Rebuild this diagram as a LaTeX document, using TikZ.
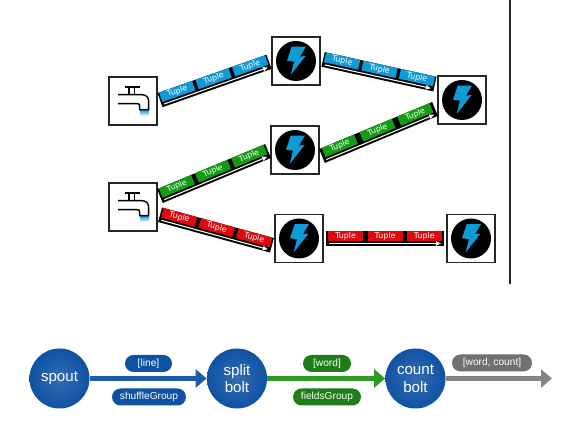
\documentclass[tikz,border=0pt]{standalone}
\usepackage{fontspec}
\setmainfont{Liberation Sans}
\newfontfamily\tuplefont{DejaVu Sans}
\usetikzlibrary{arrows.meta,calc}

\definecolor{tupleblue}{HTML}{0E9BD8}
\definecolor{tuplegreen}{HTML}{119C11}
\definecolor{tuplered}{HTML}{E0080F}
\definecolor{ballblue}{HTML}{0F52A4}
\definecolor{flowblue}{HTML}{1C5CA8}
\definecolor{flowgreen}{HTML}{2E9B22}
\definecolor{flowgray}{HTML}{858585}
\definecolor{pillgreen}{HTML}{1E7D16}
\definecolor{pillgray}{HTML}{707070}

\tikzset{
	iconbox/.style={draw=black!85,fill=white,line width=.6pt,minimum size=.96cm,inner sep=0pt},
	tuplecell/.style={fill=#1,text=white,font=\tuplefont\fontsize{4.5}{5}\selectfont,minimum width=.7cm,minimum height=.2cm,inner sep=0pt,sloped},
	streamband/.style={line width=.3cm,black,shorten <=1.5pt,shorten >=1.5pt},
	streamarrow/.style={white,line width=.6pt,-{Latex[length=3pt,width=3pt]},shorten <=3pt,shorten >=3pt},
	ballnode/.style={circle,minimum size=1.2cm,inner sep=0pt,text=white,align=center,font=\fontsize{8.6}{10}\selectfont,inner color=ballblue!85!white,outer color=ballblue},
	flow/.style={line width=2.4pt,#1,-{Triangle[length=.22cm,width=.36cm]}},
	pill/.style={rounded corners=.17cm,fill=#1,text=white,minimum height=.34cm,inner sep=0pt,font=\fontsize{5.8}{7}\selectfont},
	tapicon/.pic={
		\shade[top color=tupleblue,bottom color=white] (.14,-.18) rectangle (.31,-.3);
		\draw[line width=.8pt] (-.167,.28)--(.133,.28);
		\draw[line width=.8pt] (-.08,.28)--(-.08,.127);
		\draw[line width=.8pt] (.033,.28)--(.033,.127);
		\draw[line width=.8pt] (-.3,.127)--(.167,.127) .. controls (.27,.127) and (.313,.07) .. (.313,-.007)--(.313,-.173)--(.133,-.173)--(.133,-.09) .. controls (.133,-.06) and (.11,-.053) .. (.08,-.053)--(-.3,-.053);
	},
	bolticon/.pic={
		\fill[black] (0,0) circle (.4);
		\fill[tupleblue] (-.087,.287)--(.2,.287)--(.08,.087)--(.193,.1)--(-.107,-.28)--(-.04,-.013)--(-.18,.007)--cycle;
	}
}

\newcommand{\tuplestream}[3]{
	\draw[streamband] (#1)--(#2);
	\path ($(#1)!.05cm!90:(#2)$)--($(#2)!.05cm!-90:(#1)$)
		node[tuplecell=#3,pos=.18]{Tuple}
		node[tuplecell=#3,pos=.5]{Tuple}
		node[tuplecell=#3,pos=.82]{Tuple};
	\draw[streamarrow] ($(#1)!.1cm!-90:(#2)$)--($(#2)!.1cm!90:(#1)$);
}

\begin{document}
\begin{tikzpicture}
	\useasboundingbox (0,0) rectangle (11.34,8.46);

	\node[iconbox] (spouta) at (2.66,6.44) {};
	\node[iconbox] (spoutb) at (2.66,4.32) {};
	\node[iconbox] (bolta) at (5.92,7.24) {};
	\node[iconbox] (boltb) at (9.24,6.46) {};
	\node[iconbox] (boltc) at (5.9,5.46) {};
	\node[iconbox] (boltd) at (5.98,3.69) {};
	\node[iconbox] (bolte) at (9.42,3.69) {};

	\pic at (spouta) {tapicon};
	\pic at (spoutb) {tapicon};
	\pic at (bolta) {bolticon};
	\pic at (boltb) {bolticon};
	\pic at (boltc) {bolticon};
	\pic at (boltd) {bolticon};
	\pic at (bolte) {bolticon};

	\tuplestream{spouta.east}{bolta.west}{tupleblue}
	\tuplestream{bolta.5}{boltb.148}{tupleblue}
	\tuplestream{spoutb.22}{boltc.west}{tuplegreen}
	\tuplestream{boltc.-16}{boltb.198}{tuplegreen}
	\tuplestream{spoutb.-16}{boltd.197}{tuplered}
	\tuplestream{boltd.east}{bolte.west}{tuplered}

	\draw[black!85,line width=1.1pt] (10.2,8.46)--(10.2,2.78);

	\node[ballnode] (spout) at (1.19,.89) {spout};
	\node[ballnode] (split) at (4.74,.89) {split\\bolt};
	\node[ballnode] (count) at (8.31,.89) {count\\bolt};
	\coordinate (out) at (11.04,.89);

	\draw[flow=flowblue] (spout)--(split);
	\draw[flow=flowgreen] (split)--(count);
	\draw[flow=flowgray] (count)--(out);

	\node[pill=ballblue,minimum width=.94cm] (line) at (2.97,1.19) {[line]};
	\node[pill=ballblue,minimum width=1.48cm] (shuffle) at (2.98,.52) {shuffleGroup};
	\node[pill=pillgreen,minimum width=.96cm] (word) at (6.54,1.19) {[word]};
	\node[pill=pillgreen,minimum width=1.36cm] (fields) at (6.54,.52) {fieldsGroup};
	\node[pill=pillgray,minimum width=1.6cm] (wordcount) at (9.84,1.2) {[word, count]};
\end{tikzpicture}
\end{document}
